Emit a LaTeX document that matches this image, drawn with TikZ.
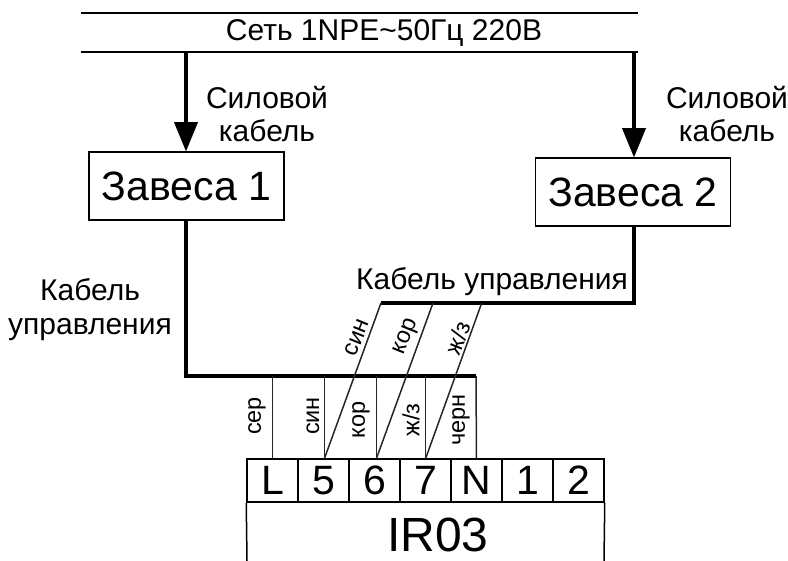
\documentclass[tikz,border=0pt]{standalone}
\usepackage{fontspec}
\setmainfont{Liberation Sans}
\usetikzlibrary{arrows.meta}
\newcommand{\fs}[1]{\fontsize{#1}{#1}\selectfont}
\tikzset{
  wire/.style={line width=1.5pt,black!85},
  heavy/.style={line width=3.6pt},
  power/.style={heavy,-{Triangle[length=29pt,width=24pt,line width=0pt]}},
  curtain/.style={draw,line width=1.5pt,minimum width=195pt,minimum height=68pt,inner sep=0pt,font=\fs{41}},
  term/.style={draw,line width=1.5pt,minimum width=51pt,minimum height=43pt,inner sep=0pt,font=\fs{41}},
  lbl/.style={inner sep=0pt,font=\fs{30},align=center},
  wl/.style={inner sep=0pt,font=\fs{23.5}},
}
\begin{document}
\begin{tikzpicture}[x=1pt,y=-1pt]
\useasboundingbox (0,0) rectangle (788,561);
\fill[white] (0,0) rectangle (788,561);
% Mains
\coordinate (mt1) at (81,13); \coordinate (mt2) at (638,13);
\coordinate (mb1) at (81,52); \coordinate (mb2) at (638,52);
\draw[line width=1.5pt] (mt1) -- (mt2);
\draw[line width=1.8pt] (mb1) -- (mb2);
\node[lbl] (net) at (384,33) {Сеть 1NPE\textasciitilde50Гц 220В};
% Curtains
\node[curtain] (z1) at (186.5,186) {Завеса 1};
\node[curtain] (z2) at (633,192) {Завеса 2};
\coordinate (p1) at (186,52); \coordinate (p2) at (634,52);
\draw[power] (p1) -- (z1.north -| p1);
\draw[power] (p2) -- (z2.north -| p2);
\node[lbl] (s1) at (267,114) {Силовой\\[3pt]кабель};
\node[lbl] (s2) at (727,114) {Силовой\\[3pt]кабель};
% Terminals
\node[term] (tL) at (272.5,480.5) {L};
\node[term] (t5) at (323.5,480.5) {5};
\node[term] (t6) at (374.5,480.5) {6};
\node[term] (t7) at (425.5,480.5) {7};
\node[term] (tN) at (476.5,480.5) {N};
\node[term] (t1) at (527.5,480.5) {1};
\node[term] (t2) at (578.5,480.5) {2};
\coordinate (bl) at (247,561); \coordinate (br) at (604,561);
\draw[line width=1.5pt] (tL.south west) -- (bl);
\draw[line width=1.5pt] (t2.south east) -- (br);
\node[inner sep=0pt,font=\fs{48}] (ir) at (438,535) {IR03};
% Control cables
\coordinate (c1) at (186,376); \coordinate (c2) at (476,376);
\coordinate (d0) at (381,303); \coordinate (d3) at (634,303);
\draw[heavy,line join=miter] (z1.south -| c1) -- (c1) -- (c2);
\draw[heavy,line join=miter] (d0) -- (d3) -- (z2.south -| d3);
\node[lbl] (kl) at (90,310) {Кабель\\[4pt]управления};
\node[lbl] (kr) at (492,282) {Кабель управления};
% Wires
\coordinate (v1) at (272.5,376); \coordinate (v2) at (324.5,376);
\coordinate (v3) at (376.5,376); \coordinate (v4) at (425.7,376);
\coordinate (d1) at (433,303); \coordinate (d2) at (481.7,303);
\draw[wire] (v1) -- (tL.north);
\draw[wire] (v2) -- (v2 |- t5.north);
\draw[wire] (v3) -- (v3 |- t5.north);
\draw[wire] (v4) -- (v4 |- t5.north);
\draw[wire] (c2) -- (tN.north);
\draw[wire] (v2 |- t5.north) -- (d0);
\draw[wire] (v3 |- t5.north) -- (d1);
\draw[wire] (v4 |- t5.north) -- (d2);
% Wire labels
\node[wl,rotate=90] (w1) at (257,416) {сер};
\node[wl,rotate=90] (w2) at (313,416) {син};
\node[wl,rotate=90] (w3) at (361,420) {кор};
\node[wl,rotate=90] (w4) at (411,420) {ж/з};
\node[wl,rotate=90] (w5) at (461,420) {черн};
\node[wl,rotate=68] (w6) at (357,338) {син};
\node[wl,rotate=68] (w7) at (407,337) {кор};
\node[wl,rotate=68] (w8) at (458,338) {ж/з};
\end{tikzpicture}
\end{document}
